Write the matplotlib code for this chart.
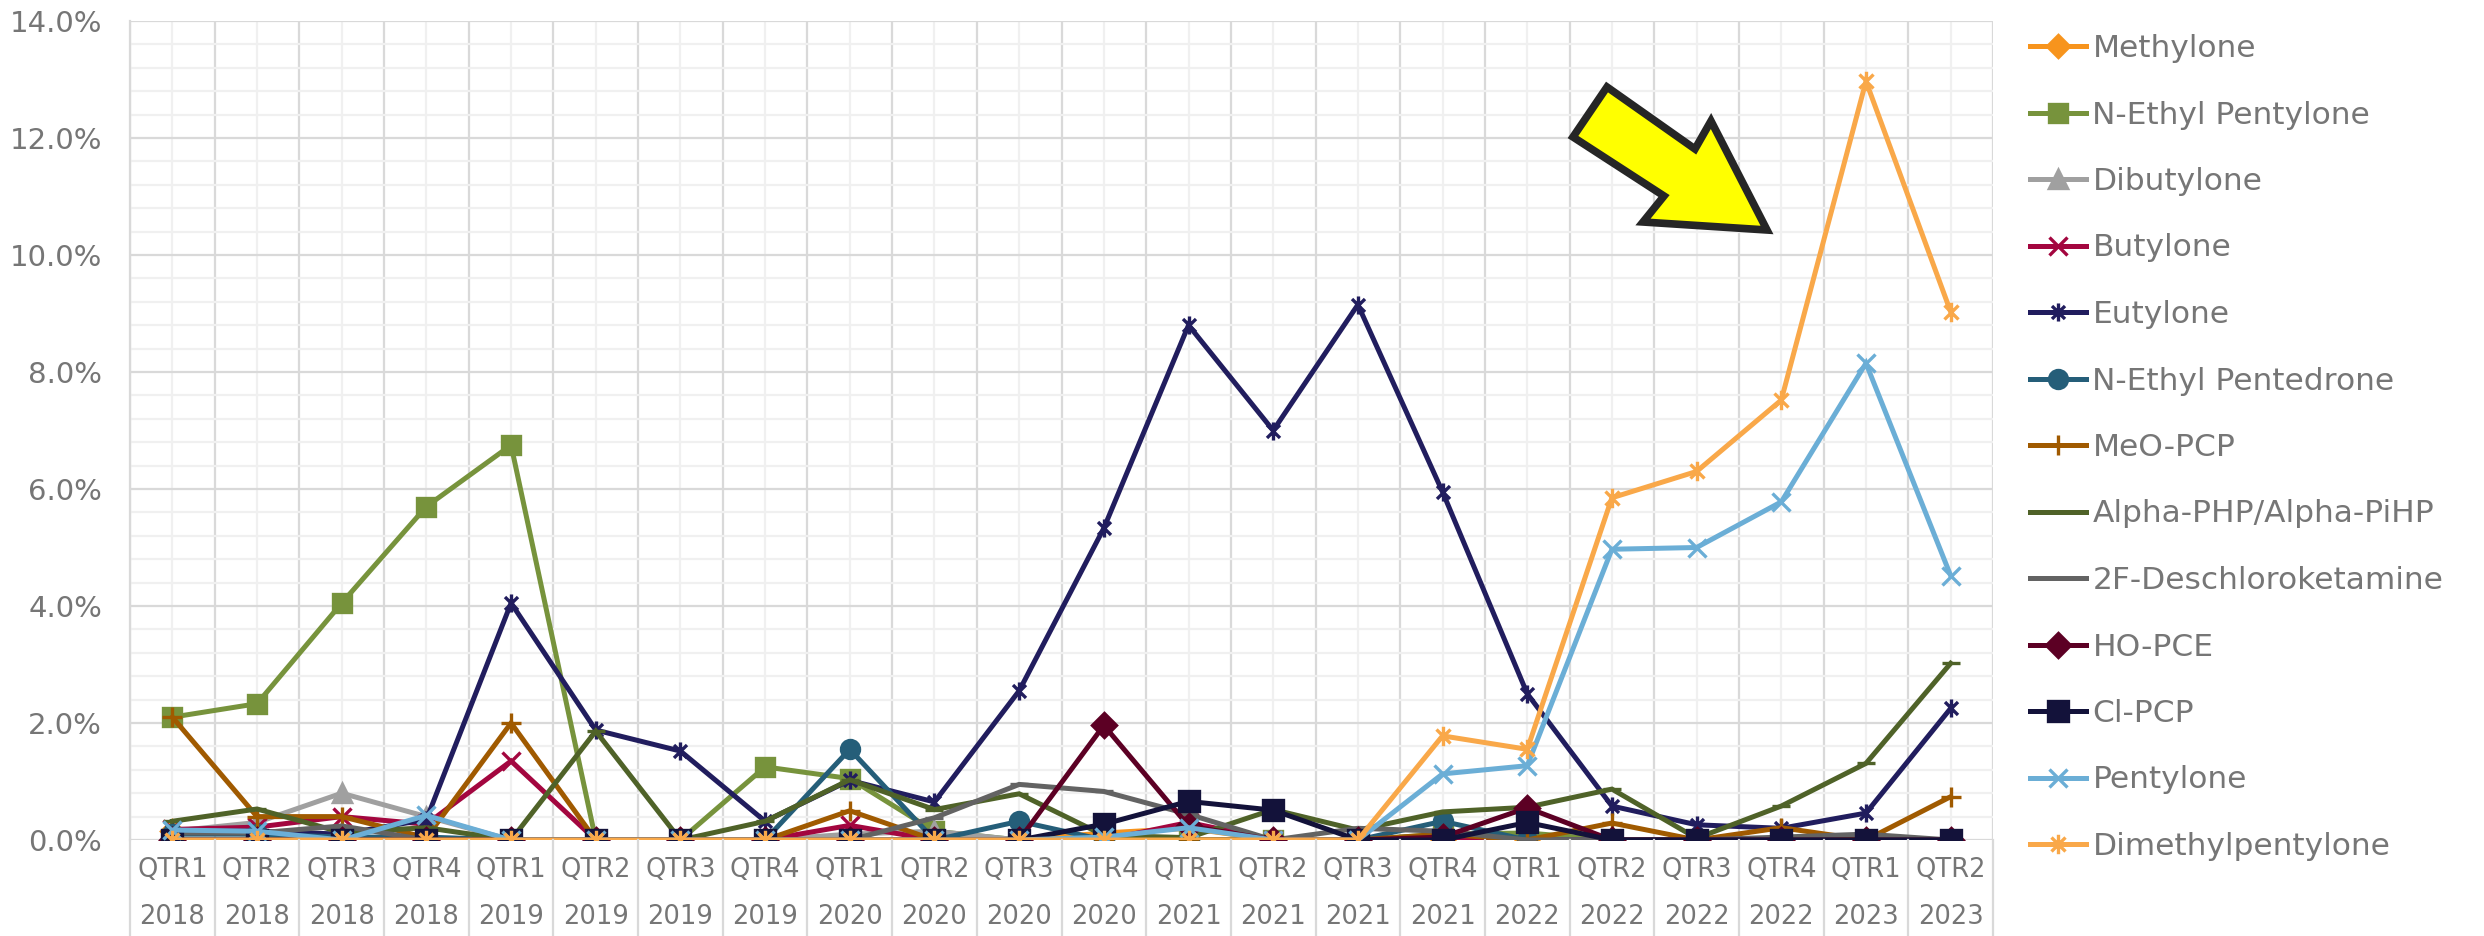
import matplotlib
matplotlib.use("Agg")
import matplotlib.pyplot as plt
from matplotlib.path import Path
from matplotlib.patches import Polygon
from matplotlib.ticker import MultipleLocator, FuncFormatter

# Quarterly share of positive samples (%), 2018 Q1 .. 2023 Q2
quarters = ["QTR1", "QTR2", "QTR3", "QTR4"] * 5 + ["QTR1", "QTR2"]
years = ["2018"] * 4 + ["2019"] * 4 + ["2020"] * 4 + ["2021"] * 4 + ["2022"] * 4 + ["2023"] * 2

methylone = [0.15, 0.1, 0, 0, 0, 0, 0, 0, 0, 0, 0, 0.12, 0.2, 0, 0, 0, 0, 0, 0, 0, 0, 0]
n_ethyl_pentylone = [2.1, 2.33, 4.05, 5.7, 6.75, 0, 0, 1.25, 1.05, 0.15, 0, 0, 0, 0, 0, 0.1, 0.12, 0, 0, 0, 0, 0]
dibutylone = [0.15, 0.3, 0.8, 0.4, 0, 0, 0, 0, 0.1, 0.15, 0, 0, 0, 0, 0, 0, 0, 0, 0, 0, 0, 0]
butylone = [0.18, 0.22, 0.4, 0.27, 1.35, 0, 0, 0, 0.25, 0, 0, 0, 0.3, 0, 0, 0.05, 0, 0, 0, 0, 0, 0]
eutylone = [0.15, 0.15, 0.1, 0.35, 4.05, 1.88, 1.52, 0.32, 1.02, 0.65, 2.55, 5.33,
            8.8, 7.0, 9.15, 5.95, 2.5, 0.58, 0.26, 0.2, 0.46, 2.25]
n_ethyl_pentedrone = [0.1, 0.1, 0.05, 0.05, 0, 0, 0, 0, 1.55, 0, 0.32, 0, 0, 0, 0, 0.32, 0, 0, 0, 0, 0, 0]
meo_pcp = [2.1, 0.4, 0.4, 0.04, 2.0, 0, 0, 0, 0.5, 0, 0, 0, 0, 0, 0, 0.1, 0, 0.29, 0, 0.21, 0, 0.74]
alpha_php = [0.32, 0.53, 0.13, 0.21, 0, 1.86, 0, 0.32, 1.03, 0.52, 0.79, 0.08,
             0.04, 0.52, 0.17, 0.48, 0.56, 0.87, 0.03, 0.58, 1.31, 3.02]
deschloroketamine = [0.12, 0.12, 0.24, 0, 0, 0, 0, 0, 0, 0.38, 0.95, 0.83,
                     0.44, 0, 0.2, 0.15, 0, 0, 0, 0.05, 0.1, 0]
ho_pce = [0, 0, 0, 0, 0, 0, 0, 0, 0, 0, 0, 1.96, 0.24, 0, 0, 0.05, 0.55, 0, 0, 0, 0, 0]
cl_pcp = [0, 0, 0, 0, 0, 0, 0, 0, 0, 0, 0, 0.27, 0.66, 0.51, 0, 0, 0.3, 0, 0, 0, 0, 0]
pentylone = [0.17, 0.15, 0, 0.42, 0, 0, 0, 0, 0, 0, 0, 0.05, 0.21, 0, 0, 1.13, 1.27,
             4.97, 5.0, 5.78, 8.15, 4.52]
dimethylpentylone = [0, 0, 0, 0, 0, 0, 0, 0, 0, 0, 0, 0, 0, 0, 0, 1.78, 1.55,
                     5.85, 6.3, 7.52, 12.97, 9.03]

# Excel-style "star" marker: a vertical bar plus an X
star = Path([(0, -1), (0, 1), (-0.72, -0.72), (0.72, 0.72), (-0.72, 0.72), (0.72, -0.72)],
            [Path.MOVETO, Path.LINETO, Path.MOVETO, Path.LINETO, Path.MOVETO, Path.LINETO])

series = [
    ("Methylone", methylone, "#F7941D", "D", 11),
    ("N-Ethyl Pentylone", n_ethyl_pentylone, "#77933C", "s", 13),
    ("Dibutylone", dibutylone, "#A0A0A0", "^", 13),
    ("Butylone", butylone, "#A3063F", "x", 13),
    ("Eutylone", eutylone, "#211D5E", star, 13),
    ("N-Ethyl Pentedrone", n_ethyl_pentedrone, "#255E79", "o", 13),
    ("MeO-PCP", meo_pcp, "#A05A00", "+", 14),
    ("Alpha-PHP/Alpha-PiHP", alpha_php, "#4F6228", "_", 13),
    ("2F-Deschloroketamine", deschloroketamine, "#636363", "_", 13),
    ("HO-PCE", ho_pce, "#5C0024", "D", 12),
    ("Cl-PCP", cl_pcp, "#13123A", "s", 14),
    ("Pentylone", pentylone, "#6BAED6", "x", 13),
    ("Dimethylpentylone", dimethylpentylone, "#F9A849", star, 14),
]

W, H = 2484, 936
fig = plt.figure(figsize=(W / 100, H / 100), dpi=100)
ax = fig.add_axes([130 / W, 1 - 840 / H, (1993 - 130) / W, (840 - 21) / H])

text_gray = "#767676"
x = list(range(len(quarters)))

for name, vals, color, marker, ms in series:
    ax.plot(x, vals, color=color, lw=3.6, marker=marker, ms=ms, mfc=color, mec=color,
            mew=2.4, label=name, solid_joinstyle="miter")

ax.set_xlim(-0.5, len(quarters) - 0.5)
ax.set_ylim(0, 14)

# gridlines: darker at category edges / 2% steps, lighter in between
ax.yaxis.set_major_locator(MultipleLocator(2))
ax.yaxis.set_minor_locator(MultipleLocator(0.4))
ax.set_xticks(x)
ax.set_xticks([i - 0.5 for i in range(len(quarters) + 1)], minor=True)
ax.grid(which="major", axis="y", color="#D9D9D9", lw=1.6)
ax.grid(which="minor", axis="y", color="#F0F0F0", lw=1.6)
ax.grid(which="minor", axis="x", color="#D9D9D9", lw=1.6)
ax.grid(which="major", axis="x", color="#F0F0F0", lw=1.6)
ax.set_axisbelow(True)

for s in ["top", "right", "bottom"]:
    ax.spines[s].set_visible(False)
ax.spines["left"].set_color("#D9D9D9")
ax.spines["left"].set_linewidth(1.6)

ax.yaxis.set_major_formatter(FuncFormatter(lambda v, _: f"{v:.1f}%"))
ax.tick_params(axis="y", which="both", length=0, labelsize=21, labelcolor=text_gray, pad=20)
ax.tick_params(axis="x", which="both", length=0, labelsize=18.5, labelcolor=text_gray, pad=12)
ax.set_xticklabels(quarters)

# second level of the category axis: year row and separators
xt = ax.get_xaxis_transform()
for i, yr in enumerate(years):
    ax.text(i, -0.094, yr, transform=xt, ha="center", va="center", fontsize=18.5, color=text_gray)
for b in range(len(quarters) + 1):
    ax.plot([b - 0.5, b - 0.5], [0, -0.12], transform=xt, clip_on=False, color="#D9D9D9", lw=1.6)

ax.legend(loc="upper left", bbox_to_anchor=(2030 / W, 1 - 34 / H), bbox_transform=fig.transFigure,
          frameon=False, fontsize=22.5, labelcolor=text_gray, labelspacing=1.2,
          handlelength=1.8, handletextpad=0.2, borderaxespad=0, borderpad=0)

# yellow call-out arrow (figure pixel coordinates)
arrow_px = [(1607, 87), (1695, 149), (1711, 121), (1767, 230), (1643, 222), (1664, 196), (1573, 137)]
arrow = Polygon([(px / W, 1 - py / H) for px, py in arrow_px], closed=True,
                facecolor="#FFFF00", edgecolor="#262626", lw=5.5, joinstyle="miter",
                transform=fig.transFigure, zorder=10)
fig.patches.append(arrow)

fig.savefig("out.png", dpi=100)
